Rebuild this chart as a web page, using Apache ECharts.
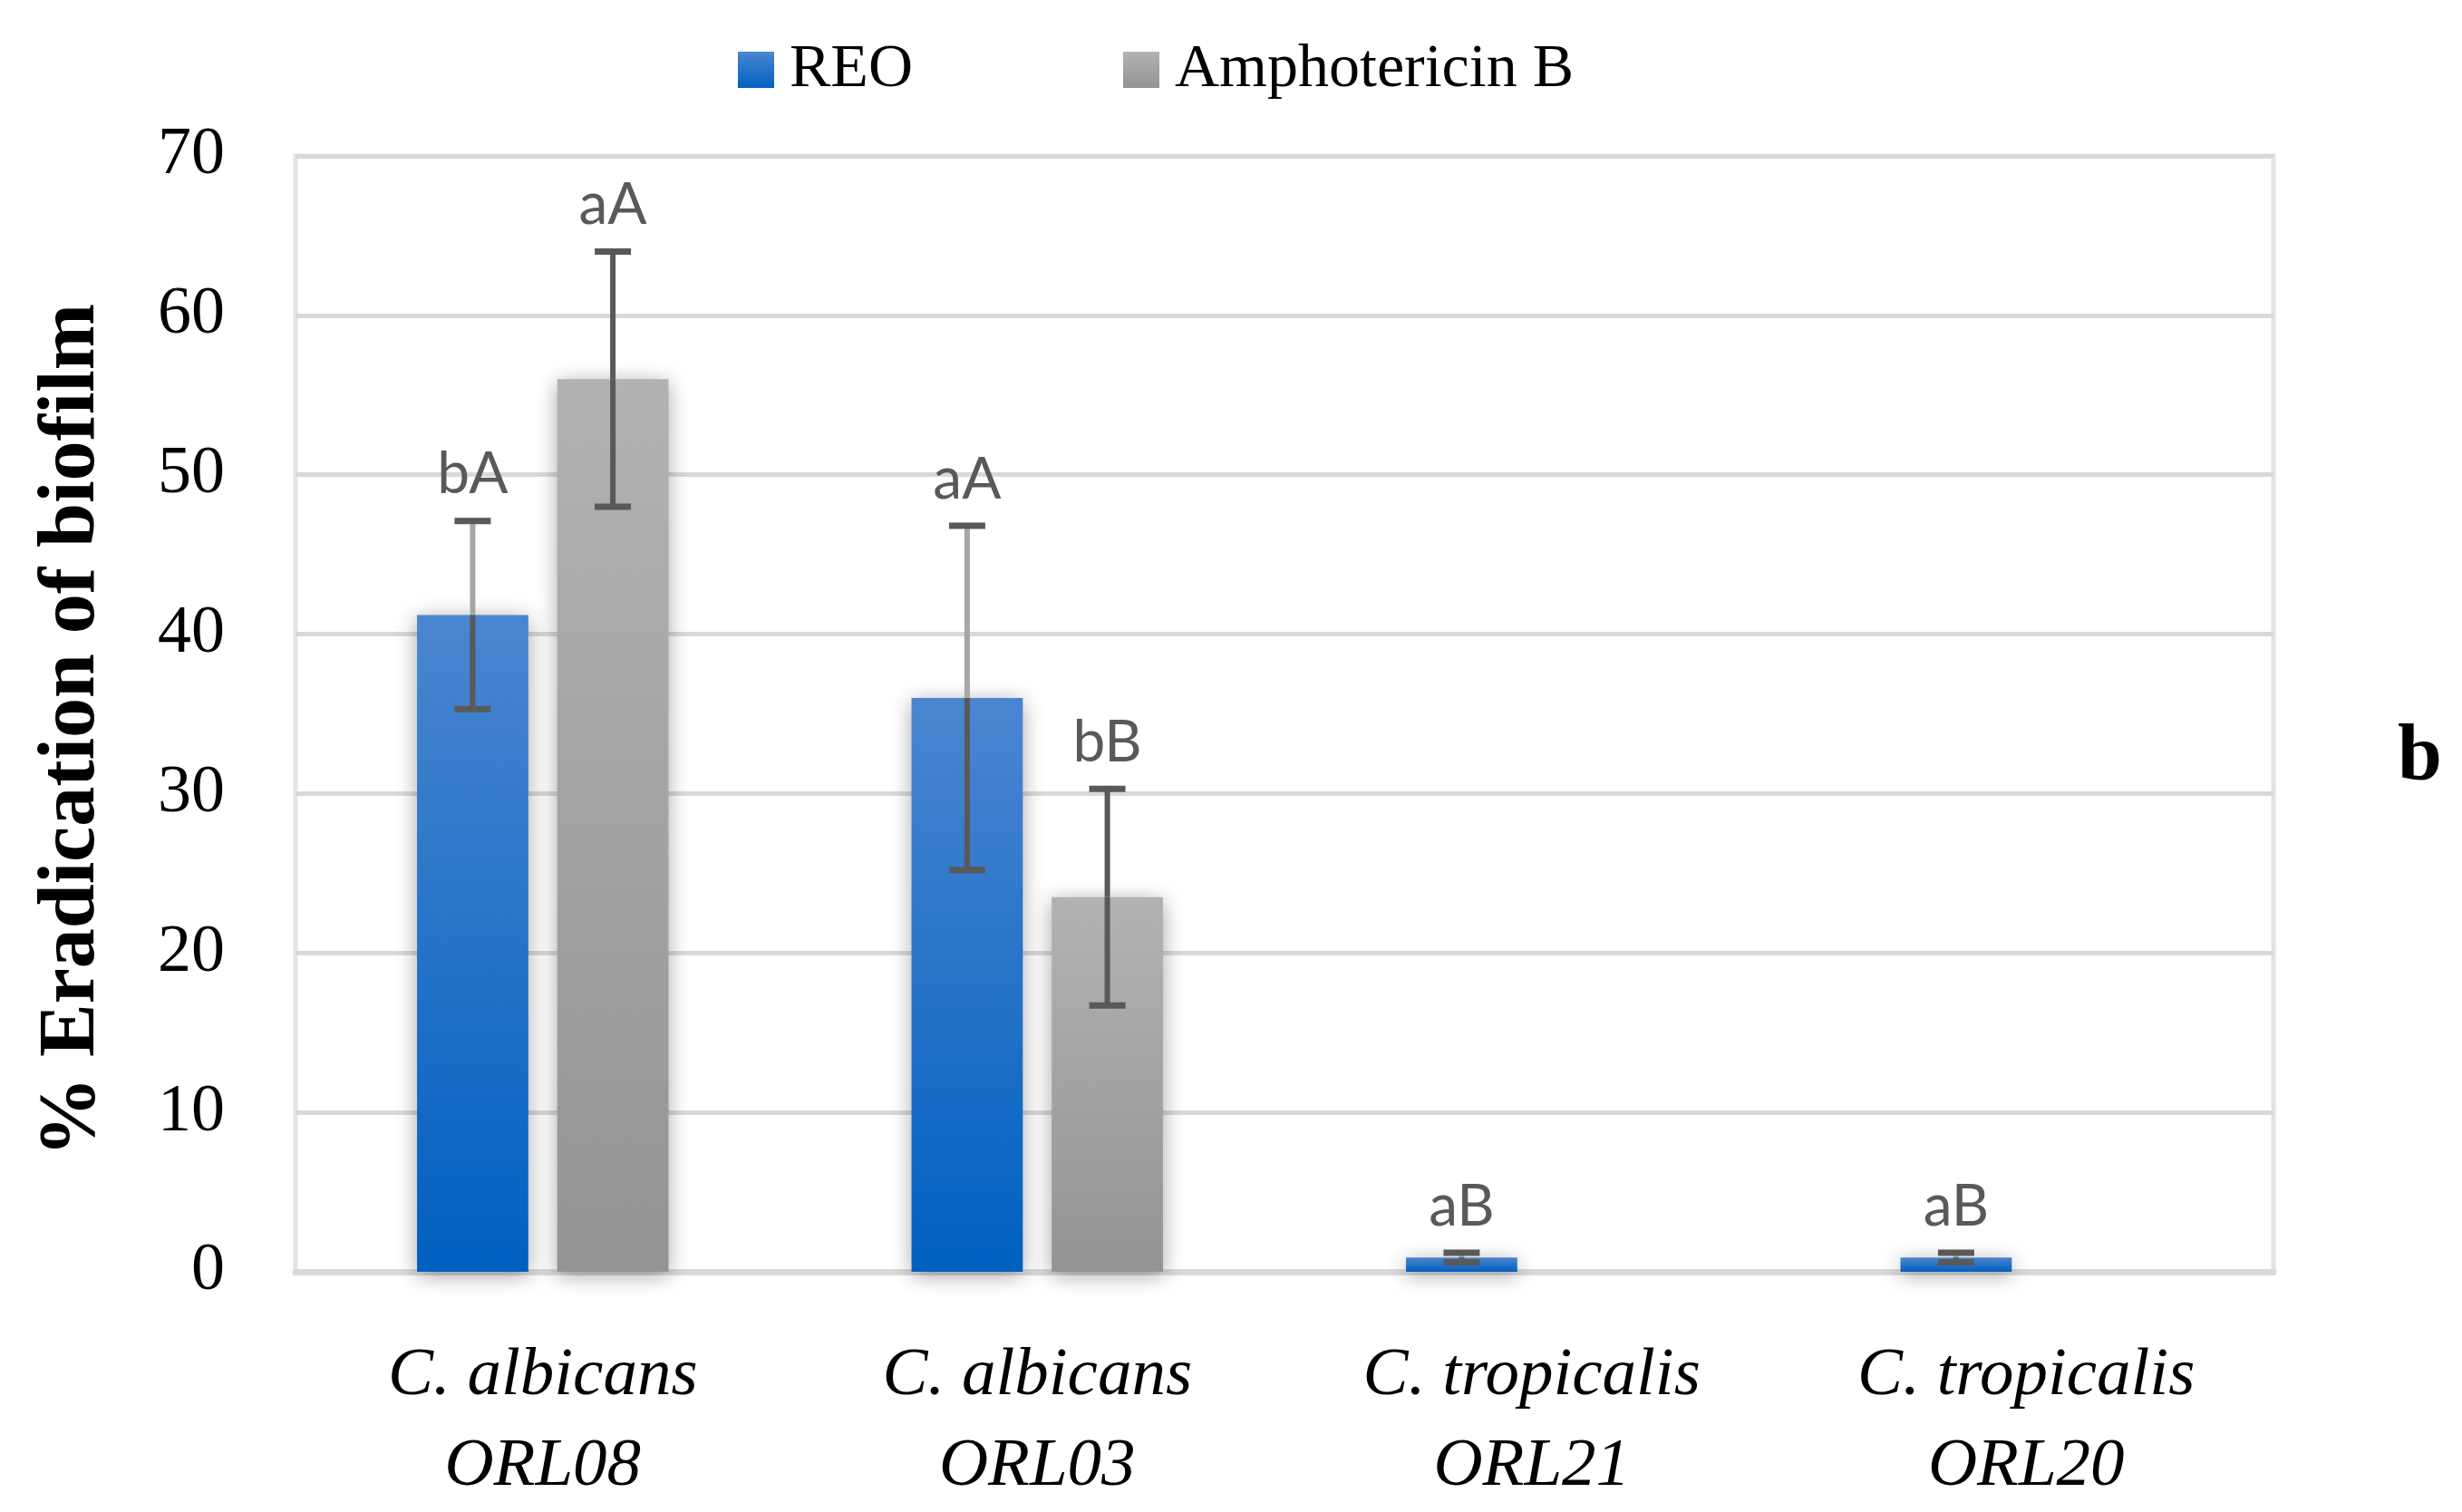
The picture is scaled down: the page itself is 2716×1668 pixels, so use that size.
<!DOCTYPE html>
<html>
<head>
<meta charset="utf-8">
<script src="https://cdn.jsdelivr.net/npm/echarts@6/dist/echarts.min.js"></script>
<style>html,body{margin:0;padding:0;background:#fff}#c{width:2716px;height:1668px}</style>
</head>
<body>
<div id="c"></div>
<script>
const categories = ['C. albicans\nORL08', 'C. albicans\nORL03', 'C. tropicalis\nORL21', 'C. tropicalis\nORL20'];
const seriesNames = ['REO', 'Amphotericin B'];
const reoValues = [41.2, 36.0, 0.9, 0.9];
const reoErrors = [5.9, 10.8, 0.3, 0.3];
const amphValues = [56.0, 23.5, 0, 0];
const amphErrors = [8.0, 6.8, 0, 0];
const reoLetters = ['bA', 'aA', 'aB', 'aB'];
const amphLetters = ['aA', 'bB', '', ''];
const yTicks = { min: 0, max: 70, interval: 10 };

const BAR_W = 0.225, BAR_GAP = 0.26;
const errData = [];
reoValues.forEach((v, i) => errData.push([i, v, reoErrors[i], 0, reoLetters[i]]));
amphValues.forEach((v, i) => errData.push([i, v, amphErrors[i], 1, amphLetters[i]]));

const chart = echarts.init(document.getElementById('c'));
const blueGrad = new echarts.graphic.LinearGradient(0, 0, 0, 1, [
  { offset: 0, color: '#4a86d0' }, { offset: 1, color: '#0060c0' }]);
const grayGrad = new echarts.graphic.LinearGradient(0, 0, 0, 1, [
  { offset: 0, color: '#b2b2b2' }, { offset: 1, color: '#949494' }]);
const shadow = { shadowBlur: 22, shadowColor: 'rgba(0,0,0,0.35)', shadowOffsetY: 4 };

chart.setOption({
  animation: false,
  legend: {
    data: seriesNames, left: 809, top: 38, icon: 'rect', itemWidth: 40, itemHeight: 40,
    itemGap: 232,
    textStyle: { fontFamily: 'Liberation Serif', fontSize: 68, color: '#000', padding: [0, 0, 0, 12] }
  },
  grid: { left: 326, right: 208, top: 172, bottom: 262, show: true, borderColor: '#e3e3e3', borderWidth: 5 },
  xAxis: {
    type: 'category', data: categories,
    axisLine: { show: true, lineStyle: { color: '#d9d9d9', width: 7 } },
    axisTick: { show: false },
    axisLabel: { margin: 65, fontFamily: 'Liberation Serif', fontStyle: 'italic', fontSize: 75, lineHeight: 100, color: '#000' }
  },
  yAxis: {
    type: 'value', min: yTicks.min, max: yTicks.max, interval: yTicks.interval,
    name: '% Eradication of biofilm', nameLocation: 'middle', nameGap: 202, nameRotate: 90,
    nameTextStyle: { fontFamily: 'Liberation Serif', fontWeight: 'bold', fontSize: 88, color: '#000', padding: [0, 36, 0, 0] },
    axisLine: { show: false }, axisTick: { show: false },
    axisLabel: { margin: 78, fontFamily: 'Liberation Serif', fontSize: 74, color: '#000' },
    splitLine: { lineStyle: { color: '#d9d9d9', width: 5 } }
  },
  graphic: [{
    type: 'text', left: 2645, top: 793,
    style: { text: 'b', font: 'bold 88px "Liberation Serif"', fill: '#000' }
  }],
  series: [
    { name: seriesNames[0], type: 'bar', data: reoValues, barWidth: (BAR_W * 100) + '%', barGap: (BAR_GAP * 100) + '%',
      itemStyle: Object.assign({ color: blueGrad }, shadow) },
    { name: seriesNames[1], type: 'bar', data: amphValues, barWidth: (BAR_W * 100) + '%',
      itemStyle: Object.assign({ color: grayGrad }, shadow) },
    { name: 'err', type: 'custom', data: errData, z: 10, clip: false,
      encode: { x: 0, y: 1 },
      renderItem: function (params, api) {
        const cat = api.value(0), val = api.value(1), err = api.value(2), s = api.value(3);
        const letter = errData[params.dataIndex][4];
        const band = api.size([1, 0])[0];
        const bw = band * BAR_W, gap = bw * BAR_GAP;
        const cx = api.coord([cat, 0])[0] + (s === 0 ? -1 : 1) * (bw + gap) / 2;
        const yTop = api.coord([cat, val + err])[1];
        const yBot = api.coord([cat, val - err])[1];
        const yVal = api.coord([cat, val])[1];
        const children = [];
        const dark = '#595959', light = '#a6a6a6', lw = 6, cap = 20;
        if (err > 0) {
          children.push({ type: 'line', shape: { x1: cx, y1: yTop, x2: cx, y2: yVal }, style: { stroke: s === 0 ? light : dark, lineWidth: lw } });
          children.push({ type: 'line', shape: { x1: cx, y1: yVal, x2: cx, y2: yBot }, style: { stroke: dark, lineWidth: lw } });
          children.push({ type: 'line', shape: { x1: cx - cap, y1: yTop, x2: cx + cap, y2: yTop }, style: { stroke: dark, lineWidth: lw + 1 } });
          children.push({ type: 'line', shape: { x1: cx - cap, y1: yBot, x2: cx + cap, y2: yBot }, style: { stroke: dark, lineWidth: lw + 1 } });
        }
        if (letter) {
          children.push({ type: 'text', style: { text: letter, x: cx, y: yTop - 19, align: 'center', verticalAlign: 'bottom',
            font: '64px Lato', fill: '#595959' } });
        }
        return { type: 'group', children: children };
      }
    }
  ]
});
</script>
</body>
</html>
